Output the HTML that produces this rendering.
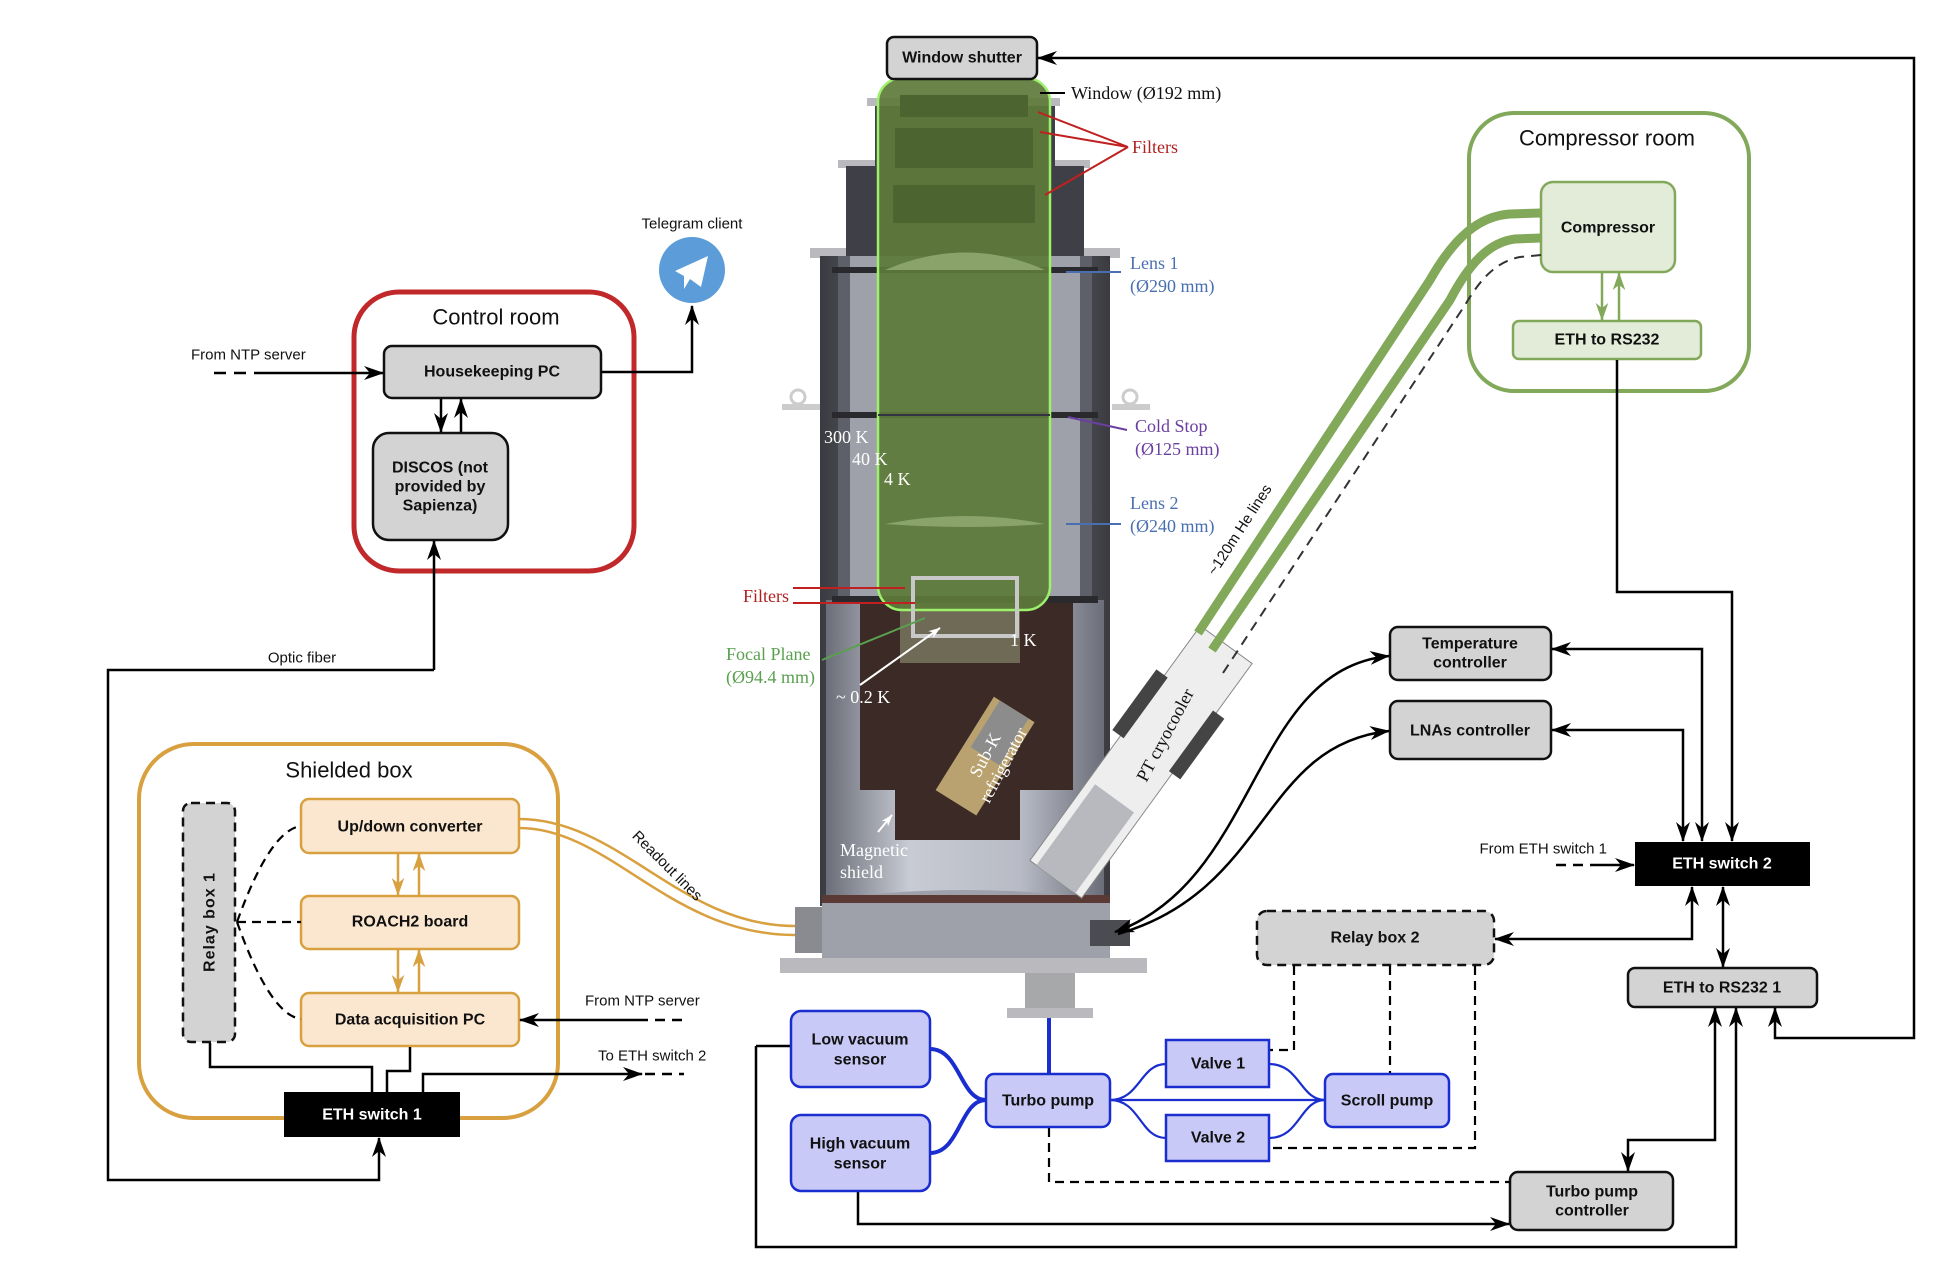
<!DOCTYPE html>
<html><head><meta charset="utf-8"><style>
html,body{margin:0;padding:0;background:#fff}
svg{display:block}
.b{font-family:"Liberation Sans",Arial,sans-serif;font-weight:bold;font-size:16px;text-anchor:middle;dominant-baseline:central;fill:#111}
.t{font-family:"Liberation Sans",Arial,sans-serif;font-size:22px;text-anchor:middle;dominant-baseline:central;fill:#111}
.s{font-family:"Liberation Sans",Arial,sans-serif;font-size:15px;dominant-baseline:central;fill:#111}
.sr{font-family:"Liberation Serif","Times New Roman",serif;font-size:18px;dominant-baseline:central}
</style></head><body>
<svg width="1934" height="1264" viewBox="0 0 1934 1264" xmlns="http://www.w3.org/2000/svg">
<defs>
<marker id="a" viewBox="0 0 20 14" refX="19" refY="7" markerWidth="20" markerHeight="14" markerUnits="userSpaceOnUse" orient="auto-start-reverse"><path d="M0,0 L20,7 L0,14 L6,7 Z" fill="#000"/></marker>
<marker id="ao" viewBox="0 0 20 14" refX="19" refY="7" markerWidth="18" markerHeight="13" markerUnits="userSpaceOnUse" orient="auto-start-reverse"><path d="M0,0 L20,7 L0,14 L6,7 Z" fill="#d9a040"/></marker>
<marker id="ag" viewBox="0 0 20 14" refX="19" refY="7" markerWidth="18" markerHeight="13" markerUnits="userSpaceOnUse" orient="auto-start-reverse"><path d="M0,0 L20,7 L0,14 L6,7 Z" fill="#82a85a"/></marker>
<marker id="aw" viewBox="0 0 20 14" refX="19" refY="7" markerWidth="12" markerHeight="9" markerUnits="userSpaceOnUse" orient="auto"><path d="M0,0 L20,7 L0,14 L6,7 Z" fill="#fff"/></marker>
<linearGradient id="wall" x1="0" x2="1"><stop offset="0" stop-color="#3a3b40"/><stop offset="0.5" stop-color="#8a8d96"/><stop offset="1" stop-color="#3a3b40"/></linearGradient>
<linearGradient id="low" x1="0" x2="1"><stop offset="0" stop-color="#6b6e78"/><stop offset="0.3" stop-color="#c8cbd4"/><stop offset="0.7" stop-color="#b8bbc5"/><stop offset="1" stop-color="#6b6e78"/></linearGradient>
</defs>

<!-- ===== CRYOSTAT ===== -->
<g>
<rect x="867" y="98" width="193" height="8" fill="#b9b9be"/>
<rect x="838" y="160" width="252" height="8" fill="#b9b9be"/>
<rect x="810" y="248" width="310" height="10" fill="#b9b9be"/>
<rect x="875" y="106" width="180" height="60" fill="#3f4047"/>
<rect x="846" y="166" width="238" height="90" fill="#3f4047"/>
<rect x="820" y="256" width="290" height="650" fill="url(#wall)"/>
<rect x="838" y="256" width="254" height="650" fill="#5d6068"/>
<rect x="850" y="256" width="230" height="650" fill="#9ea1aa"/>
<rect x="826" y="600" width="278" height="300" fill="url(#low)"/>
<rect x="860" y="603" width="213" height="187" fill="#3b2a26"/>
<rect x="895" y="780" width="125" height="60" fill="#3b2a26"/>
<rect x="900" y="603" width="120" height="60" fill="#6f6a55"/>
<g transform="rotate(-58 985 762)"><rect x="935" y="735" width="110" height="48" fill="#b9a270"/><rect x="990" y="742" width="55" height="34" fill="#8c8c8c"/></g>
<path d="M822,900 Q966,880 1110,900 L1110,958 L822,958 Z" fill="#9ea1aa"/>
<rect x="822" y="895" width="288" height="8" fill="#5b3a36"/>
<rect x="780" y="958" width="367" height="15" fill="#b9b9be"/>
<rect x="795" y="907" width="27" height="46" fill="#8a8b90"/>
<rect x="1090" y="920" width="40" height="26" fill="#4a4c52"/>
<rect x="1025" y="973" width="50" height="37" fill="#a7a8aa"/>
<rect x="1007" y="1008" width="86" height="10" fill="#b9b9be"/>
<circle cx="798" cy="397" r="7" fill="none" stroke="#ccc" stroke-width="3"/><rect x="782" y="404" width="38" height="6" fill="#ccc"/>
<circle cx="1130" cy="397" r="7" fill="none" stroke="#ccc" stroke-width="3"/><rect x="1112" y="404" width="38" height="6" fill="#ccc"/>
<rect x="832" y="267" width="266" height="6" fill="#2a2a2e"/>
<rect x="832" y="412" width="266" height="6" fill="#2a2a2e"/>
<rect x="832" y="596" width="266" height="7" fill="#2a2a2e"/>
<rect x="878" y="78" width="172" height="532" rx="24" fill="#5d7a3a" fill-opacity="0.92" stroke="#9df06a" stroke-width="2.5"/>
<rect x="900" y="95" width="128" height="22" fill="#4b6430"/>
<rect x="895" y="128" width="138" height="40" fill="#4b6430"/>
<rect x="893" y="185" width="142" height="38" fill="#4b6430"/>
<path d="M885,270 Q966,235 1045,270 Z" fill="#8aa36a"/>
<path d="M885,524 Q966,508 1045,524 Q966,530 885,524 Z" fill="#8aa36a"/>
<line x1="878" y1="415" x2="1050" y2="415" stroke="#334" stroke-width="2"/>
<rect x="913" y="578" width="104" height="58" fill="none" stroke="#c8c8c8" stroke-width="4"/>
<!-- cryocooler -->
<g transform="rotate(-54 1141 762)">
<rect x="996" y="730" width="290" height="64" fill="#eeeeee" stroke="#888" stroke-width="1"/>
<rect x="996" y="738" width="100" height="48" fill="#b7b9be"/>
<rect x="1150" y="720" width="75" height="14" fill="#444"/>
<rect x="1150" y="790" width="75" height="14" fill="#444"/>
</g>
</g>
<text class="sr" x="824" y="437" fill="#fff">300 K</text>
<text class="sr" x="852" y="459" fill="#fff">40 K</text>
<text class="sr" x="884" y="479" fill="#fff">4 K</text>
<text class="sr" x="1010" y="640" fill="#fff">1 K</text>
<text class="sr" x="836" y="697" fill="#fff">~ 0.2 K</text>
<line x1="860" y1="685" x2="940" y2="628" stroke="#fff" stroke-width="2" marker-end="url(#aw)"/>
<text class="sr" x="840" y="850" fill="#fff">Magnetic</text>
<text class="sr" x="840" y="872" fill="#fff">shield</text>
<line x1="878" y1="832" x2="892" y2="815" stroke="#fff" stroke-width="2" marker-end="url(#aw)"/>
<text class="sr" transform="translate(985 755) rotate(-62)" text-anchor="middle" fill="#fff" font-size="17">Sub-K</text>
<text class="sr" transform="translate(1003 765) rotate(-62)" text-anchor="middle" fill="#fff" font-size="17">refrigerator</text>
<text class="sr" transform="translate(1165 735) rotate(-62)" text-anchor="middle" fill="#111" font-size="18">PT cryocooler</text>
<text class="sr" x="1071" y="93" fill="#111">Window (Ø192 mm)</text>
<line x1="1065" y1="93" x2="1040" y2="93" stroke="#000" stroke-width="2"/>
<text class="sr" x="1132" y="147" fill="#b02020">Filters</text>
<path d="M1128,147 L1038,112 M1128,147 L1040,132 M1128,147 L1045,195" stroke="#c02020" stroke-width="2" fill="none"/>
<text class="sr" x="1130" y="263" fill="#4a6fb0">Lens 1</text>
<text class="sr" x="1130" y="286" fill="#4a6fb0">(Ø290 mm)</text>
<line x1="1121" y1="272" x2="1066" y2="272" stroke="#4a6fb0" stroke-width="2"/>
<text class="sr" x="1135" y="426" fill="#6a3fa0">Cold Stop</text>
<text class="sr" x="1135" y="449" fill="#6a3fa0">(Ø125 mm)</text>
<line x1="1127" y1="430" x2="1068" y2="417" stroke="#6a3fa0" stroke-width="2"/>
<text class="sr" x="1130" y="503" fill="#4a6fb0">Lens 2</text>
<text class="sr" x="1130" y="526" fill="#4a6fb0">(Ø240 mm)</text>
<line x1="1121" y1="524" x2="1066" y2="524" stroke="#4a6fb0" stroke-width="2"/>
<text class="sr" x="743" y="596" fill="#b02020">Filters</text>
<path d="M793,588 L905,588 M793,603 L915,603" stroke="#c02020" stroke-width="2"/>
<text class="sr" x="726" y="654" fill="#5aa050">Focal Plane</text>
<text class="sr" x="726" y="677" fill="#5aa050">(Ø94.4 mm)</text>
<line x1="822" y1="660" x2="925" y2="618" stroke="#5aa050" stroke-width="2"/>

<!-- ===== CONTROL ROOM ===== -->
<rect x="354" y="292" width="280" height="279" rx="45" fill="none" stroke="#c0282a" stroke-width="5"/>
<text class="t" x="496" y="317">Control room</text>
<rect x="384" y="346" width="217" height="52" rx="8" fill="#d3d3d3" stroke="#111" stroke-width="2.5"/>
<text class="b" x="492" y="372">Housekeeping PC</text>
<rect x="373" y="433" width="135" height="107" rx="16" fill="#d3d3d3" stroke="#111" stroke-width="2.5"/>
<text class="b" x="440" y="468">DISCOS (not</text>
<text class="b" x="440" y="487">provided by</text>
<text class="b" x="440" y="506">Sapienza)</text>
<line x1="441" y1="399" x2="441" y2="432" stroke="#000" stroke-width="2.5" marker-end="url(#a)"/>
<line x1="461" y1="432" x2="461" y2="399" stroke="#000" stroke-width="2.5" marker-end="url(#a)"/>
<text class="s" x="191" y="355">From NTP server</text>
<line x1="214" y1="373" x2="265" y2="373" stroke="#000" stroke-width="2.5" stroke-dasharray="12,8"/>
<line x1="265" y1="373" x2="383" y2="373" stroke="#000" stroke-width="2.5" marker-end="url(#a)"/>
<polyline points="601,372 692,372 692,306" fill="none" stroke="#000" stroke-width="2.5" marker-end="url(#a)"/>
<circle cx="692" cy="270" r="33" fill="#5c9dd9"/>
<path d="M675,271 L708,256 L701,287 L690,279 L684,289 L684,276 Z" fill="#fff"/>
<text class="s" x="692" y="224" text-anchor="middle">Telegram client</text>

<polyline points="434,670 434,541" fill="none" stroke="#000" stroke-width="2.5" marker-end="url(#a)"/>
<polyline points="434,670 108,670 108,1180 379,1180 379,1138" fill="none" stroke="#000" stroke-width="2.5" marker-end="url(#a)"/>
<text class="s" x="302" y="658" text-anchor="middle">Optic fiber</text>

<!-- ===== SHIELDED BOX ===== -->
<rect x="139" y="744" width="419" height="374" rx="55" fill="none" stroke="#d9a040" stroke-width="4"/>
<text class="t" x="349" y="770">Shielded box</text>
<rect x="183" y="803" width="52" height="239" rx="8" fill="#d3d3d3" stroke="#111" stroke-width="2.5" stroke-dasharray="9,6"/>
<text class="b" transform="translate(210 922) rotate(-90)" style="letter-spacing:1px">Relay box 1</text>
<rect x="301" y="799" width="218" height="54" rx="8" fill="#fbe7cf" stroke="#d9a040" stroke-width="2.5"/>
<text class="b" x="410" y="827">Up/down converter</text>
<rect x="301" y="896" width="218" height="53" rx="8" fill="#fbe7cf" stroke="#d9a040" stroke-width="2.5"/>
<text class="b" x="410" y="922">ROACH2 board</text>
<rect x="301" y="993" width="218" height="53" rx="8" fill="#fbe7cf" stroke="#d9a040" stroke-width="2.5"/>
<text class="b" x="410" y="1020">Data acquisition PC</text>
<line x1="398" y1="854" x2="398" y2="895" stroke="#d9a040" stroke-width="2.5" marker-end="url(#ao)"/>
<line x1="419" y1="895" x2="419" y2="854" stroke="#d9a040" stroke-width="2.5" marker-end="url(#ao)"/>
<line x1="398" y1="950" x2="398" y2="992" stroke="#d9a040" stroke-width="2.5" marker-end="url(#ao)"/>
<line x1="419" y1="992" x2="419" y2="950" stroke="#d9a040" stroke-width="2.5" marker-end="url(#ao)"/>
<path d="M237,922 Q270,830 301,826 M237,922 L301,922 M237,922 Q270,1015 301,1019" fill="none" stroke="#000" stroke-width="2.2" stroke-dasharray="9,6"/>
<rect x="284" y="1092" width="176" height="45" fill="#000"/>
<text class="b" x="372" y="1115" style="fill:#fff">ETH switch 1</text>
<polyline points="210,1043 210,1067 372,1067 372,1092" fill="none" stroke="#000" stroke-width="2.5"/>
<polyline points="410,1047 410,1071 387,1071 387,1092" fill="none" stroke="#000" stroke-width="2.5"/>
<polyline points="423,1092 423,1074 642,1074" fill="none" stroke="#000" stroke-width="2.5" marker-end="url(#a)"/>
<line x1="645" y1="1074" x2="684" y2="1074" stroke="#000" stroke-width="2.5" stroke-dasharray="10,7"/>
<text class="s" x="598" y="1056">To ETH switch 2</text>
<text class="s" x="585" y="1001">From NTP server</text>
<line x1="682" y1="1020" x2="640" y2="1020" stroke="#000" stroke-width="2.5" stroke-dasharray="10,7"/>
<line x1="640" y1="1020" x2="520" y2="1020" stroke="#000" stroke-width="2.5" marker-end="url(#a)"/>
<path d="M519,819 C620,819 680,926 795,926" fill="none" stroke="#d9a040" stroke-width="2.5"/>
<path d="M519,828 C610,828 670,935 795,935" fill="none" stroke="#d9a040" stroke-width="2.5"/>
<text class="s" transform="translate(667 866) rotate(45)" text-anchor="middle">Readout lines</text>

<!-- ===== COMPRESSOR ROOM ===== -->
<rect x="1469" y="113" width="280" height="278" rx="45" fill="none" stroke="#82a85a" stroke-width="4"/>
<text class="t" x="1607" y="138">Compressor room</text>
<rect x="1541" y="182" width="134" height="90" rx="12" fill="#e3ecd9" stroke="#82a85a" stroke-width="2.5"/>
<text class="b" x="1608" y="228">Compressor</text>
<rect x="1513" y="321" width="188" height="38" rx="6" fill="#e3ecd9" stroke="#82a85a" stroke-width="2.5"/>
<text class="b" x="1607" y="340">ETH to RS232</text>
<line x1="1602" y1="273" x2="1602" y2="320" stroke="#82a85a" stroke-width="2.5" marker-end="url(#ag)"/>
<line x1="1619" y1="320" x2="1619" y2="273" stroke="#82a85a" stroke-width="2.5" marker-end="url(#ag)"/>
<path d="M1541,213 L1510,214 C1480,216 1455,236 1430,280 L1198,633" fill="none" stroke="#82a85a" stroke-width="9"/>
<path d="M1541,238 L1515,239 C1490,242 1470,262 1450,300 L1212,650" fill="none" stroke="#82a85a" stroke-width="9"/>
<path d="M1541,255 L1520,257 C1495,262 1480,280 1465,305 L1223,673" fill="none" stroke="#333" stroke-width="2" stroke-dasharray="10,7"/>
<text class="s" transform="translate(1240 530) rotate(-57)" text-anchor="middle">~120m He lines</text>

<rect x="887" y="37" width="150" height="42" rx="7" fill="#d3d3d3" stroke="#111" stroke-width="2.5"/>
<text class="b" x="962" y="58">Window shutter</text>

<!-- ===== RIGHT SIDE ===== -->
<rect x="1390" y="627" width="161" height="53" rx="8" fill="#d3d3d3" stroke="#111" stroke-width="2.5"/>
<text class="b" x="1470" y="644">Temperature</text>
<text class="b" x="1470" y="663">controller</text>
<rect x="1390" y="701" width="161" height="58" rx="8" fill="#d3d3d3" stroke="#111" stroke-width="2.5"/>
<text class="b" x="1470" y="731">LNAs controller</text>
<path d="M1115,932 C1260,880 1250,670 1389,656" fill="none" stroke="#000" stroke-width="2.5" marker-end="url(#a)" marker-start="url(#a)"/>
<path d="M1118,934 C1270,890 1260,745 1389,731" fill="none" stroke="#000" stroke-width="2.5" marker-end="url(#a)"/>
<rect x="1635" y="842" width="175" height="44" fill="#000"/>
<text class="b" x="1722" y="864" style="fill:#fff">ETH switch 2</text>
<text class="s" x="1607" y="849" text-anchor="end">From ETH switch 1</text>
<line x1="1556" y1="865" x2="1600" y2="865" stroke="#000" stroke-width="2.5" stroke-dasharray="10,7"/>
<line x1="1600" y1="865" x2="1634" y2="865" stroke="#000" stroke-width="2.5" marker-end="url(#a)"/>
<polyline points="1702,841 1702,649 1552,649" fill="none" stroke="#000" stroke-width="2.5" marker-end="url(#a)" marker-start="url(#a)"/>
<polyline points="1683,841 1683,730 1552,730" fill="none" stroke="#000" stroke-width="2.5" marker-end="url(#a)" marker-start="url(#a)"/>
<polyline points="1617,360 1617,592 1732,592 1732,841" fill="none" stroke="#000" stroke-width="2.5" marker-end="url(#a)"/>
<rect x="1257" y="911" width="237" height="54" rx="10" fill="#d3d3d3" stroke="#111" stroke-width="2.5" stroke-dasharray="9,6"/>
<text class="b" x="1375" y="938">Relay box 2</text>
<polyline points="1692,887 1692,939 1495,939" fill="none" stroke="#000" stroke-width="2.5" marker-end="url(#a)" marker-start="url(#a)"/>
<line x1="1723" y1="887" x2="1723" y2="967" stroke="#000" stroke-width="2.5" marker-end="url(#a)" marker-start="url(#a)"/>
<rect x="1628" y="968" width="189" height="39" rx="7" fill="#d3d3d3" stroke="#111" stroke-width="2.5"/>
<text class="b" x="1722" y="988">ETH to RS232 1</text>
<polyline points="1775,1008 1775,1038 1914,1038 1914,58 1038,58" fill="none" stroke="#000" stroke-width="2.5" marker-end="url(#a)" marker-start="url(#a)"/>
<polyline points="1715,1008 1715,1140 1628,1140 1628,1171" fill="none" stroke="#000" stroke-width="2.5" marker-end="url(#a)" marker-start="url(#a)"/>
<polyline points="756,1046 756,1247 1736,1247 1736,1008" fill="none" stroke="#000" stroke-width="2.5" marker-end="url(#a)"/>
<rect x="1510" y="1172" width="163" height="58" rx="8" fill="#d3d3d3" stroke="#111" stroke-width="2.5"/>
<text class="b" x="1592" y="1192">Turbo pump</text>
<text class="b" x="1592" y="1211">controller</text>
<polyline points="858,1192 858,1224 1509,1224" fill="none" stroke="#000" stroke-width="2.5" marker-end="url(#a)"/>
<polyline points="1049,1128 1049,1182 1510,1182" fill="none" stroke="#000" stroke-width="2.2" stroke-dasharray="9,6"/>
<polyline points="1294,966 1294,1050 1270,1050" fill="none" stroke="#000" stroke-width="2.2" stroke-dasharray="9,6"/>
<line x1="1390" y1="966" x2="1390" y2="1073" stroke="#000" stroke-width="2.2" stroke-dasharray="9,6"/>
<polyline points="1475,966 1475,1148 1270,1148" fill="none" stroke="#000" stroke-width="2.2" stroke-dasharray="9,6"/>
<polyline points="756,1046 791,1046" fill="none" stroke="#000" stroke-width="2.5"/>
<line x1="1049" y1="1018" x2="1049" y2="1074" stroke="#1a2ed0" stroke-width="4"/>
<path d="M930,1049 C960,1049 960,1100 986,1100 M930,1153 C960,1153 960,1100 986,1100" fill="none" stroke="#1a2ed0" stroke-width="4"/>
<path d="M1110,1100 C1140,1100 1140,1064 1166,1064 M1110,1100 L1325,1100 M1110,1100 C1140,1100 1140,1138 1166,1138 M1269,1064 C1300,1064 1300,1100 1325,1100 M1269,1138 C1300,1138 1300,1100 1325,1100" fill="none" stroke="#1a2ed0" stroke-width="2.2"/>
<rect x="791" y="1011" width="139" height="76" rx="10" fill="#c9c9f7" stroke="#1a2ed0" stroke-width="2.5"/>
<text class="b" x="860" y="1040">Low vacuum</text>
<text class="b" x="860" y="1060">sensor</text>
<rect x="791" y="1115" width="139" height="76" rx="10" fill="#c9c9f7" stroke="#1a2ed0" stroke-width="2.5"/>
<text class="b" x="860" y="1144">High vacuum</text>
<text class="b" x="860" y="1164">sensor</text>
<rect x="986" y="1074" width="124" height="53" rx="8" fill="#c9c9f7" stroke="#1a2ed0" stroke-width="2.5"/>
<text class="b" x="1048" y="1101">Turbo pump</text>
<rect x="1166" y="1040" width="103" height="47" fill="#c9c9f7" stroke="#1a2ed0" stroke-width="2.5"/>
<text class="b" x="1218" y="1064">Valve 1</text>
<rect x="1166" y="1115" width="103" height="46" fill="#c9c9f7" stroke="#1a2ed0" stroke-width="2.5"/>
<text class="b" x="1218" y="1138">Valve 2</text>
<rect x="1325" y="1074" width="124" height="53" rx="8" fill="#c9c9f7" stroke="#1a2ed0" stroke-width="2.5"/>
<text class="b" x="1387" y="1101">Scroll pump</text>
</svg>
</body></html>
